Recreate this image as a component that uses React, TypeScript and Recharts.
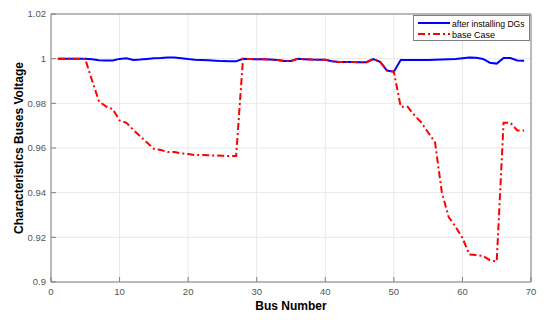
import { CartesianGrid, Label, Line, LineChart, XAxis, YAxis } from "recharts";

const FONT = '"Liberation Sans", Arial, Helvetica, sans-serif';

const buses = [
  1, 2, 3, 4, 5, 6, 7, 8, 9, 10, 11, 12, 13, 14, 15, 16, 17, 18, 19, 20, 21, 22,
  23, 24, 25, 26, 27, 28, 29, 30, 31, 32, 33, 34, 35, 36, 37, 38, 39, 40, 41, 42,
  43, 44, 45, 46, 47, 48, 49, 50, 51, 52, 53, 54, 55, 56, 57, 58, 59, 60, 61, 62,
  63, 64, 65, 66, 67, 68, 69,
];

const baseCase = [
  1.0, 1.0, 0.99997, 0.99993, 0.99979, 0.9901, 0.98084, 0.97864, 0.97737,
  0.97231, 0.97126, 0.96813, 0.96529, 0.96243, 0.95962, 0.95909, 0.95822,
  0.95821, 0.95764, 0.9573, 0.95683, 0.95682, 0.95676, 0.95663, 0.9565, 0.95645,
  0.95644, 0.99993, 0.99985, 0.99973, 0.99971, 0.99961, 0.99935, 0.99901,
  0.99895, 0.99992, 0.99975, 0.99959, 0.99954, 0.99954, 0.99884, 0.99855,
  0.99851, 0.9985, 0.99841, 0.9984, 0.99978, 0.99854, 0.9947, 0.99415, 0.9785,
  0.9785, 0.97467, 0.97142, 0.96695, 0.96258, 0.9401, 0.92904, 0.92476, 0.91974,
  0.91234, 0.91205, 0.91167, 0.90977, 0.90919, 0.97129, 0.97129, 0.96786,
  0.96786,
];

const afterDG = [
  1.0, 1.0, 1.0, 1.0, 1.0, 0.9997, 0.9993, 0.9992, 0.9992, 0.9999, 1.0002,
  0.9994, 0.9996, 0.9999, 1.0002, 1.0003, 1.0005, 1.0005, 1.0002, 0.9998,
  0.9995, 0.9994, 0.9993, 0.9991, 0.9989, 0.9988, 0.9988, 0.99993, 0.99985,
  0.99973, 0.99971, 0.99961, 0.99935, 0.99901, 0.99895, 0.99992, 0.99975,
  0.99959, 0.99954, 0.99954, 0.99884, 0.99855, 0.99851, 0.9985, 0.99841, 0.9984,
  0.99978, 0.99854, 0.9947, 0.99415, 0.9994, 0.9994, 0.9994, 0.9994, 0.9994,
  0.9995, 0.9996, 0.9997, 0.9998, 1.0002, 1.0005, 1.0004, 0.9999, 0.9982,
  0.9978, 1.0003, 1.0003, 0.9992, 0.9991,
];

const xTicks = [0, 10, 20, 30, 40, 50, 60, 70];
const yTicks = [0.9, 0.92, 0.94, 0.96, 0.98, 1.0, 1.02];

const AXIS = "#808080";

const App = () => {
  const data = buses.map((b, i) => ({
    bus: b,
    after: afterDG[i],
    base: baseCase[i],
  }));
  const tickStyle = { fill: "#555", fontSize: 9.5, fontFamily: FONT };
  const fmt = (v: number) => String(+v.toFixed(2));

  return (
    <div
      style={{
        position: "absolute",
        left: 0,
        top: 0,
        width: 550,
        height: 320,
        background: "#fff",
        fontFamily: FONT,
      }}
    >
      <LineChart
        width={550}
        height={320}
        data={data}
        margin={{ top: 13, right: 18, bottom: 8, left: 11 }}
      >
        <CartesianGrid stroke="#e8e8e8" strokeWidth={1} />
        <XAxis
          dataKey="bus"
          type="number"
          domain={[0, 70]}
          ticks={xTicks}
          allowDataOverflow
          height={30}
          tickSize={-5}
          tickMargin={11}
          stroke={AXIS}
          tick={tickStyle}
        >
          <Label
            content={() => (
              <text
                x={291}
                y={310}
                textAnchor="middle"
                fontFamily={FONT}
                fontWeight="bold"
                fontSize={12}
                fill="#000"
              >
                Bus Number
              </text>
            )}
          />
        </XAxis>
        <XAxis
          xAxisId="top"
          orientation="top"
          dataKey="bus"
          type="number"
          domain={[0, 70]}
          ticks={xTicks}
          allowDataOverflow
          height={1}
          tickSize={-5}
          tick={false}
          stroke={AXIS}
        />
        <YAxis
          type="number"
          domain={[0.9, 1.02]}
          ticks={yTicks}
          allowDataOverflow
          width={40}
          tickSize={-5}
          tickMargin={10}
          tickFormatter={fmt}
          stroke={AXIS}
          tick={tickStyle}
        >
          <Label
            content={() => (
              <text
                x={19}
                y={148}
                transform="rotate(-90 19 148)"
                textAnchor="middle"
                dominantBaseline="central"
                fontFamily={FONT}
                fontWeight="bold"
                fontSize={12}
                fill="#000"
              >
                Characteristics Buses Voltage
              </text>
            )}
          />
        </YAxis>
        <YAxis
          yAxisId="right"
          orientation="right"
          type="number"
          domain={[0.9, 1.02]}
          ticks={yTicks}
          allowDataOverflow
          width={1}
          tickSize={-5}
          tick={false}
          stroke={AXIS}
        />
        <Line
          dataKey="after"
          type="linear"
          stroke="#0000ff"
          strokeWidth={2}
          dot={false}
          isAnimationActive={false}
        />
        <Line
          dataKey="base"
          type="linear"
          stroke="#ff0000"
          strokeWidth={2}
          strokeDasharray="7 3 2 3"
          dot={false}
          isAnimationActive={false}
        />
      </LineChart>
      <div
        style={{
          position: "absolute",
          left: 413,
          top: 15,
          width: 117,
          height: 26,
          border: "1px solid #808080",
          background: "#fff",
          boxSizing: "border-box",
        }}
      >
        <svg width={115} height={24} style={{ display: "block" }}>
          <line x1={4} x2={36} y1={7} y2={7} stroke="#0000ff" strokeWidth={2} />
          <text x={38} y={10.5} fontSize={8.6} fontFamily={FONT} fill="#000">
            after installing DGs
          </text>
          <line
            x1={4}
            x2={36}
            y1={18}
            y2={18}
            stroke="#ff0000"
            strokeWidth={2}
            strokeDasharray="7 3 2 3"
          />
          <text x={38} y={21.5} fontSize={9} fontFamily={FONT} fill="#000">
            base Case
          </text>
        </svg>
      </div>
    </div>
  );
};

export default App;
